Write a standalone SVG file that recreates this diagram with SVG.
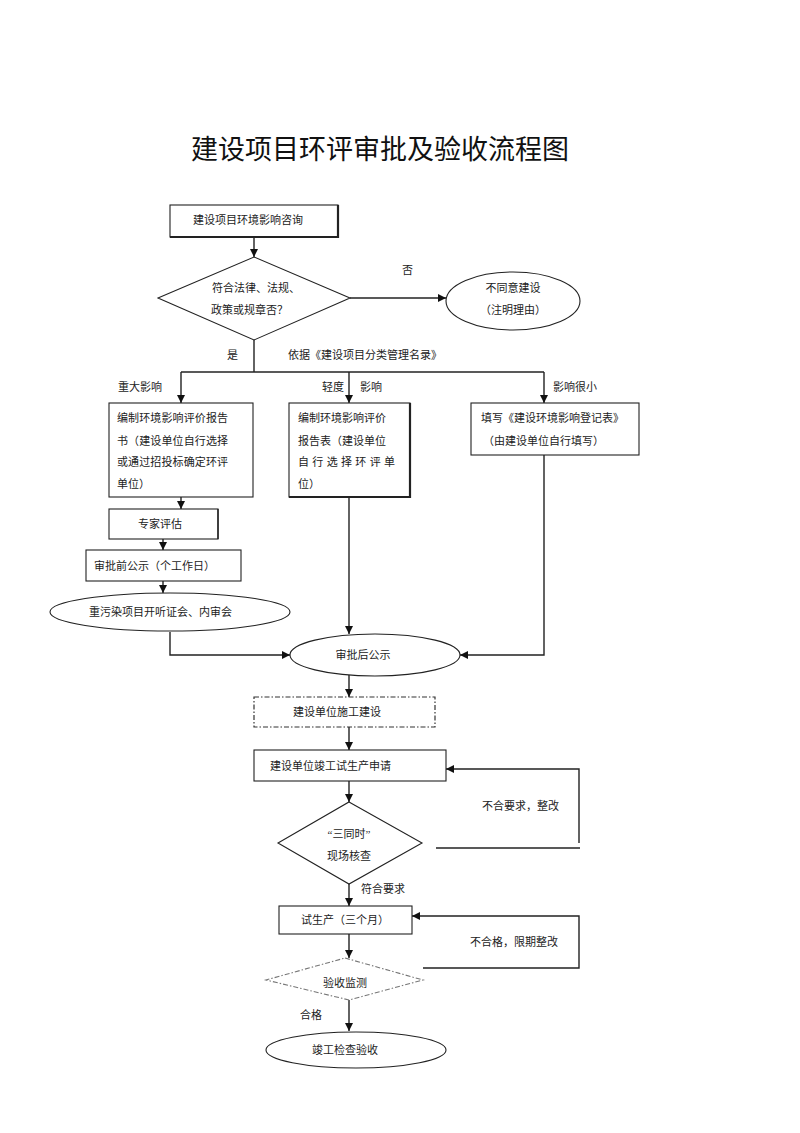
<svg xmlns="http://www.w3.org/2000/svg" width="800" height="1133" viewBox="0 0 800 1133">
<style>
text{font-family:"Liberation Serif","Noto Sans CJK SC",serif;font-size:11px;fill:#222}
.t{font-size:27px;fill:#111}
.c{text-anchor:middle}
.n{fill:#fff;stroke:#222;stroke-width:1.1}
.thick{fill:none;stroke:#222;stroke-width:2.2}
.dd{fill:#fff;stroke:#333;stroke-width:1.2;stroke-dasharray:5 2 1.5 2}
.dg{fill:#fff;stroke:#777;stroke-width:1.1;stroke-dasharray:5 2 1.5 2}
.e{fill:none;stroke:#222;stroke-width:1.4}
.ea{fill:none;stroke:#222;stroke-width:1.4;marker-end:url(#ah)}
</style>
<defs>
<marker id="ah" viewBox="0 0 10 10" refX="10" refY="5" markerWidth="8" markerHeight="8" markerUnits="userSpaceOnUse" orient="auto"><path d="M0,0L10,5L0,10z" fill="#111"/></marker>
</defs>
<rect width="800" height="1133" fill="#fff"/>
<text class="t c" x="380" y="159">建设项目环评审批及验收流程图</text>

<g id="connectors">
<path class="ea" d="M254,237V257"/>
<path class="ea" d="M350,298H446"/>
<path class="e" d="M254,340V372"/>
<path class="e" d="M181,372H544"/>
<path class="ea" d="M181,372V403"/>
<path class="ea" d="M349,372V403"/>
<path class="ea" d="M544,372V403"/>
<path class="ea" d="M181,497V509"/>
<path class="ea" d="M163,539V550"/>
<path class="ea" d="M163,581V593"/>
<path class="ea" d="M170,632V655H290"/>
<path class="ea" d="M349,497V634"/>
<path class="ea" d="M544,455V655H460"/>
<path class="ea" d="M349,675V697"/>
<path class="ea" d="M349,727V750"/>
<path class="ea" d="M349,781V802"/>
<path class="e" d="M436,848H580"/>
<path class="ea" d="M579,843V769H446"/>
<path class="ea" d="M349,884V906"/>
<path class="ea" d="M423,968H579V916H412"/>
<path class="ea" d="M349,934V958"/>
<path class="ea" d="M349,1000V1031"/>
<text x="402" y="274">否</text>
<text x="227" y="359">是</text>
<text x="288" y="359">依据《建设项目分类管理名录》</text>
<text x="118" y="391">重大影响</text>
<text x="322" y="391">轻度</text>
<text x="360" y="391">影响</text>
<text x="553" y="391">影响很小</text>
<text x="482" y="810">不合要求，整改</text>
<text x="361" y="893">符合要求</text>
<text x="470" y="946">不合格，限期整改</text>
<text x="300" y="1019">合格</text>
</g>

<g id="n1">
<rect class="n" x="170" y="205" width="168" height="32"/>
<path class="thick" d="M338,205V237H170"/>
<text x="193" y="224">建设项目环境影响咨询</text>
</g>
<g id="n2">
<polygon class="n" points="254,257 350,298 254,340 158,298"/>
<text x="212" y="292">符合法律、法规、</text>
<text x="211" y="314">政策或规章否？</text>
</g>
<g id="n3">
<ellipse class="n" cx="513" cy="301" rx="67" ry="29"/>
<text class="c" x="513" y="292">不同意建设</text>
<text class="c" x="513" y="314">（注明理由）</text>
</g>
<g id="n4">
<rect class="n" x="109" y="403" width="144" height="94"/>
<text x="117" y="422" textLength="111" lengthAdjust="spacing">编制环境影响评价报告</text>
<text x="117" y="445" textLength="111" lengthAdjust="spacing">书（建设单位自行选择</text>
<text x="117" y="466" textLength="111" lengthAdjust="spacing">或通过招投标确定环评</text>
<text x="117" y="488">单位）</text>
</g>
<g id="n5">
<rect class="n" x="289" y="403" width="121" height="94"/>
<path class="thick" d="M410,403V497H289"/>
<text x="298" y="422">编制环境影响评价</text>
<text x="298" y="445">报告表（建设单位</text>
<text x="298" y="466" textLength="97" lengthAdjust="spacing">自行选择环评单</text>
<text x="298" y="488">位）</text>
</g>
<g id="n6">
<rect class="n" x="471" y="403" width="168" height="52"/>
<text x="481" y="422">填写《建设环境影响登记表》</text>
<text x="483" y="445">（由建设单位自行填写）</text>
</g>
<g id="n7">
<rect class="n" x="109" y="509" width="109" height="30"/>
<path class="e" d="M218,509V539"/>
<text class="c" x="160" y="528">专家评估</text>
</g>
<g id="n8">
<rect class="n" x="86" y="550" width="155" height="31"/>
<text x="94" y="570">审批前公示（个工作日）</text>
</g>
<g id="n9">
<ellipse class="n" cx="170" cy="612" rx="120" ry="19"/>
<text x="89" y="616">重污染项目开听证会、内审会</text>
</g>
<g id="n10">
<ellipse class="n" cx="375" cy="655" rx="85" ry="21"/>
<text class="c" x="363" y="659">审批后公示</text>
</g>
<g id="n11">
<rect class="dd" x="254" y="697" width="181" height="30"/>
<text class="c" x="337" y="716">建设单位施工建设</text>
</g>
<g id="n12">
<rect class="n" x="254" y="750" width="192" height="31"/>
<text x="270" y="770">建设单位竣工试生产申请</text>
</g>
<g id="n13">
<polygon class="n" points="349,802 422,843 349,884 278,843"/>
<text class="c" x="349" y="838">“三同时”</text>
<text class="c" x="349" y="860">现场核查</text>
</g>
<g id="n14">
<rect class="n" x="279" y="906" width="133" height="28"/>
<text x="301" y="924">试生产（三个月）</text>
</g>
<g id="n15">
<polygon class="dg" points="345,958 423,980 349,1000 266,980"/>
<text class="c" x="345" y="987">验收监测</text>
</g>
<g id="n16">
<ellipse class="n" cx="356" cy="1050" rx="90" ry="18"/>
<text class="c" x="345" y="1054">竣工检查验收</text>
</g>
</svg>
